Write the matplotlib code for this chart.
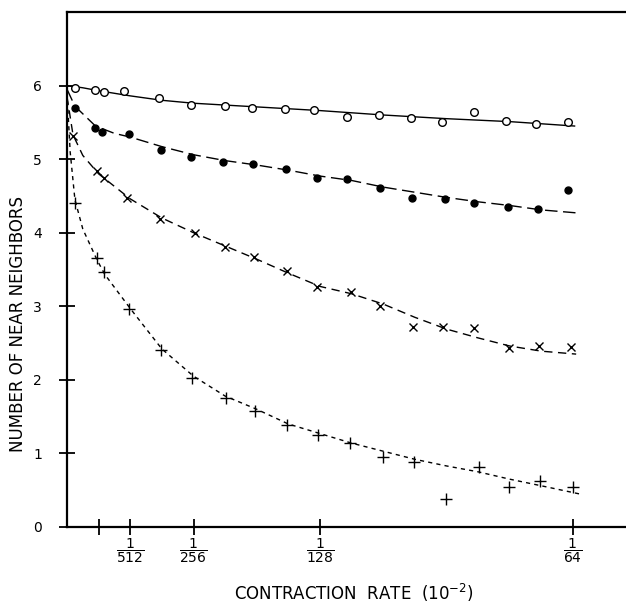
import matplotlib
matplotlib.use("Agg")
import matplotlib.pyplot as plt

# x values are in units of 1/1024 of contraction rate
x_open = [0.25, 0.89, 1.17, 1.80, 2.91, 3.92, 5.00, 5.85, 6.89, 7.81,
          8.85, 9.87, 10.88, 11.86, 12.87, 13.88, 14.83, 15.84]
y_open = [5.97, 5.94, 5.91, 5.93, 5.83, 5.74, 5.72, 5.70, 5.68, 5.67,
          5.57, 5.60, 5.56, 5.51, 5.64, 5.52, 5.48, 5.50]

x_fill = [0.25, 0.89, 1.11, 1.96, 2.97, 3.92, 4.93, 5.88, 6.92, 7.91,
          8.85, 9.90, 10.91, 11.95, 12.87, 13.94, 14.89, 15.84]
y_fill = [5.69, 5.43, 5.37, 5.34, 5.13, 5.03, 4.96, 4.93, 4.86, 4.75,
          4.73, 4.61, 4.47, 4.46, 4.40, 4.35, 4.32, 4.58]

x_cross = [0.19, 0.95, 1.17, 1.90, 2.94, 4.05, 5.00, 5.91, 6.96, 7.91,
           8.98, 9.90, 10.94, 11.89, 12.87, 13.98, 14.92, 15.94]
y_cross = [5.31, 4.84, 4.75, 4.47, 4.19, 4.00, 3.81, 3.67, 3.48, 3.26,
           3.19, 3.01, 2.72, 2.72, 2.70, 2.43, 2.46, 2.44]

x_plus = [0.25, 0.95, 1.17, 1.96, 2.97, 3.95, 5.03, 5.94, 6.96, 7.94,
          8.95, 9.99, 10.97, 11.98, 13.02, 13.98, 14.96, 16.00]
y_plus = [4.41, 3.66, 3.47, 2.96, 2.40, 2.03, 1.75, 1.58, 1.39, 1.25,
          1.14, 0.95, 0.89, 0.38, 0.81, 0.54, 0.62, 0.55]

# hand-drawn fitted curves
fx_open = [0, 0.5, 1, 2, 3, 4, 6, 8, 10, 12, 14, 16.05]
fy_open = [6.0, 5.97, 5.93, 5.86, 5.80, 5.76, 5.71, 5.66, 5.60, 5.55, 5.51, 5.45]

fx_fill = [0, 0.25, 0.9, 1.5, 2, 3, 4, 5, 6, 7, 8, 9, 10, 11, 12, 13, 14, 15, 16.1]
fy_fill = [5.95, 5.72, 5.45, 5.35, 5.30, 5.17, 5.06, 4.98, 4.92, 4.85, 4.77,
           4.71, 4.62, 4.55, 4.48, 4.42, 4.37, 4.31, 4.27]

fx_cross = [0, 0.19, 0.5, 1, 2, 3, 4, 5, 6, 7, 8, 9, 10, 11, 12, 13, 14, 15, 16.1]
fy_cross = [5.85, 5.33, 5.05, 4.80, 4.46, 4.20, 4.00, 3.82, 3.64, 3.45, 3.27,
            3.17, 3.03, 2.85, 2.69, 2.57, 2.46, 2.39, 2.35]

fx_plus = [0, 0.1, 0.25, 0.5, 0.95, 1.2, 2, 3, 4, 5, 6, 7, 8, 9, 10, 11, 12,
           13, 14, 15, 16.2]
fy_plus = [5.9, 5.1, 4.45, 4.05, 3.63, 3.43, 2.97, 2.42, 2.05, 1.78, 1.60,
           1.40, 1.27, 1.14, 1.03, 0.92, 0.83, 0.75, 0.65, 0.56, 0.45]

x_ticks = [1, 2, 4, 8, 16]
x_ticklabels = ["", r"$\dfrac{1}{512}$", r"$\dfrac{1}{256}$",
                r"$\dfrac{1}{128}$", r"$\dfrac{1}{64}$"]
y_ticks = [0, 1, 2, 3, 4, 5, 6]

fig = plt.figure(figsize=(6.26, 6.03), dpi=100)
ax = fig.add_axes([67 / 626, 76 / 603, 1 - 67 / 626, 515 / 603])

ax.plot(fx_open, fy_open, "-", color="black", lw=1.0)
ax.plot(fx_fill, fy_fill, color="black", lw=1.0, dashes=(9, 4))
ax.plot(fx_cross, fy_cross, color="black", lw=1.0, dashes=(6, 4))
ax.plot(fx_plus, fy_plus, color="black", lw=1.0, dashes=(3, 3))

ax.plot(x_open, y_open, "o", ms=5.5, mfc="white", mec="black", mew=1.0, ls="none")
ax.plot(x_fill, y_fill, "o", ms=5, mfc="black", mec="black", ls="none")
ax.plot(x_cross, y_cross, "x", ms=5.5, color="black", mew=1.0, ls="none")
ax.plot(x_plus, y_plus, "+", ms=8, color="black", mew=1.0, ls="none")

ax.set_xlim(0, (626 - 67) / 31.625)
ax.set_ylim(0, 7)
ax.set_xticks(x_ticks)
ax.set_xticklabels(x_ticklabels, fontsize=10)
ax.set_yticks(y_ticks)
ax.set_yticklabels([str(v) for v in y_ticks], fontsize=10)
ax.tick_params(direction="inout", length=12, width=1.3, color="black")
ax.tick_params(axis="x", pad=1)
ax.tick_params(axis="y", pad=12)

ax.spines["right"].set_visible(False)
for s in ["left", "bottom", "top"]:
    ax.spines[s].set_linewidth(1.6)

ax.set_xlabel(r"CONTRACTION  RATE  ($10^{-2}$)", fontsize=12)
ax.xaxis.set_label_coords((354 - 67) / 559, (527 - 582) / 515)
ax.set_ylabel("NUMBER OF NEAR NEIGHBORS", fontsize=12)
ax.yaxis.set_label_coords((27 - 67) / 559, (527 - 324) / 515)

fig.savefig("out.png", dpi=100)
